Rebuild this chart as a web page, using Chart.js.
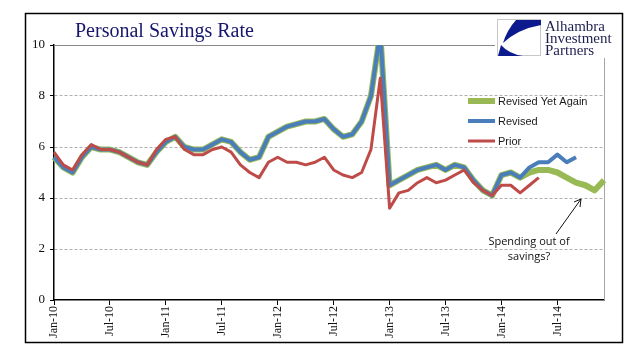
<!DOCTYPE html>
<html>
<head>
<meta charset="utf-8">
<script src="https://cdn.jsdelivr.net/npm/chart.js@4.4.0/dist/chart.umd.min.js"></script>
<style>
  body { margin: 0; background: #fff; }
  #chart_data { width: 641px; height: 358px; }
</style>
</head>
<body>
<div id="chart_data"><canvas id="chart-line" width="641" height="358"></canvas></div>
<script>
// month labels Jan-10 .. Dec-14
var monthNames = ['Jan','Feb','Mar','Apr','May','Jun','Jul','Aug','Sep','Oct','Nov','Dec'];
var years = ['10','11','12','13','14'];
var months = [];
years.forEach(function(y){ monthNames.forEach(function(m){ months.push(m + '-' + y); }); });

var yTicks = [0, 2, 4, 6, 8, 10];

var prior = [5.8, 5.3, 5.1, 5.7, 6.1, 5.9, 5.9, 5.8, 5.6, 5.4, 5.3, 5.9,
             6.3, 6.4, 5.9, 5.7, 5.7, 5.9, 6.0, 5.8, 5.3, 5.0, 4.8, 5.4,
             5.6, 5.4, 5.4, 5.3, 5.4, 5.6, 5.1, 4.9, 4.8, 5.0, 5.9, 8.7,
             3.6, 4.2, 4.3, 4.6, 4.8, 4.6, 4.7, 4.9, 5.1, 4.6, 4.3, 4.1,
             4.5, 4.5, 4.2, 4.5, 4.8];

var revised = [5.6, 5.2, 5.0, 5.6, 6.0, 5.9, 5.9, 5.8, 5.6, 5.4, 5.3, 5.8,
               6.2, 6.4, 6.0, 5.9, 5.9, 6.1, 6.3, 6.2, 5.8, 5.5, 5.6, 6.4,
               6.6, 6.8, 6.9, 7.0, 7.0, 7.1, 6.7, 6.4, 6.5, 7.0, 8.0, 10.5,
               4.5, 4.7, 4.9, 5.1, 5.2, 5.3, 5.1, 5.3, 5.2, 4.7, 4.3, 4.1,
               4.9, 5.0, 4.8, 5.2, 5.4, 5.4, 5.7, 5.4, 5.6];

var yetAgain = [5.6, 5.2, 5.0, 5.6, 6.0, 5.9, 5.9, 5.8, 5.6, 5.4, 5.3, 5.8,
                6.2, 6.4, 6.0, 5.9, 5.9, 6.1, 6.3, 6.2, 5.8, 5.5, 5.6, 6.4,
                6.6, 6.8, 6.9, 7.0, 7.0, 7.1, 6.7, 6.4, 6.5, 7.0, 8.0, 10.5,
                4.5, 4.7, 4.9, 5.1, 5.2, 5.3, 5.1, 5.3, 5.2, 4.7, 4.3, 4.1,
                4.9, 5.0, 4.8, 5.0, 5.1, 5.1, 5.0, 4.8, 4.6, 4.5, 4.3, 4.7];

var titleText = 'Personal Savings Rate';
var logoLines = ['Alhambra', 'Investment', 'Partners'];
var noteLines = ['Spending out of', 'savings?'];

var serif = "'Liberation Serif', 'Times New Roman', serif";

// extra drawing: title, logo, legend, note, frame
var decor = {
  id: 'decor',
  beforeDatasetsDraw: function(chart){
    var ctx = chart.ctx, a = chart.chartArea;
    ctx.save();
    ctx.strokeStyle = '#8a8a8a';
    ctx.lineWidth = 1;
    ctx.beginPath();
    ctx.moveTo(a.left, a.top + 0.5); ctx.lineTo(a.right, a.top + 0.5);
    ctx.stroke();
    ctx.strokeStyle = '#a6a6a6';
    ctx.beginPath();
    ctx.moveTo(a.right + 0.5, a.top); ctx.lineTo(a.right + 0.5, a.bottom);
    ctx.stroke();
    ctx.restore();
  },
  afterDraw: function(chart){
    var ctx = chart.ctx;
    ctx.save();

    // title
    ctx.fillStyle = '#16166c';
    ctx.font = '20px ' + serif;
    ctx.textBaseline = 'alphabetic';
    ctx.fillText(titleText, 75, 37);

    // logo
    ctx.fillStyle = '#fff';
    ctx.fillRect(495, 17, 118, 41);
    ctx.strokeStyle = '#c8c8c8';
    ctx.lineWidth = 1;
    ctx.strokeRect(497.5, 19.5, 43, 36);
    ctx.fillStyle = '#0c1a8e';
    ctx.beginPath();
    ctx.moveTo(516, 20); ctx.lineTo(541, 20); ctx.lineTo(541, 25);
    ctx.quadraticCurveTo(518, 29, 503, 43);
    ctx.quadraticCurveTo(507, 30, 516, 20);
    ctx.closePath(); ctx.fill();
    ctx.beginPath();
    ctx.moveTo(498, 56); ctx.lineTo(501, 45);
    ctx.quadraticCurveTo(509, 54, 523, 56);
    ctx.closePath(); ctx.fill();
    ctx.fillStyle = '#1e1e4e';
    ctx.font = '15px ' + serif;
    logoLines.forEach(function(t, i){ ctx.fillText(t, 545, 31 + i * 12); });

    // legend (reverse dataset order)
    var ds = chart.data.datasets;
    ctx.font = "11px 'Liberation Sans', Arial, sans-serif";
    ctx.textBaseline = 'middle';
    [2, 1, 0].forEach(function(k, i){
      var y = 101 + i * 20;
      ctx.strokeStyle = ds[k].borderColor;
      ctx.lineWidth = ds[k].borderWidth;
      ctx.beginPath(); ctx.moveTo(468, y); ctx.lineTo(495, y); ctx.stroke();
      ctx.fillStyle = '#1a1a1a';
      ctx.fillText(ds[k].label, 498, y + 0.5);
    });

    // note and arrow
    ctx.fillStyle = '#111';
    ctx.font = "11px 'Open Sans', sans-serif";
    ctx.textAlign = 'center';
    ctx.fillText(noteLines[0], 529, 242);
    ctx.fillText(noteLines[1], 529, 257);
    ctx.strokeStyle = '#111';
    ctx.lineWidth = 1;
    ctx.beginPath(); ctx.moveTo(556, 234); ctx.lineTo(581, 199); ctx.stroke();
    ctx.beginPath(); ctx.moveTo(574, 202); ctx.lineTo(581, 199); ctx.lineTo(580, 207); ctx.stroke();

    // outer frame
    ctx.strokeStyle = '#000';
    ctx.lineWidth = 1.5;
    ctx.strokeRect(25.5, 13.5, 597, 329);
    ctx.restore();
  }
};

var ctx2 = document.getElementById('chart-line').getContext('2d');
new Chart(ctx2, {
  type: 'line',
  data: {
    labels: months,
    datasets: [{
      label: 'Prior',
      data: prior,
      borderColor: '#be4b48',
      borderWidth: 3,
      pointRadius: 0,
      tension: 0,
      borderJoinStyle: 'round',
      clip: { left: 3, top: 0, right: 3, bottom: 3 }
    }, {
      label: 'Revised',
      data: revised,
      borderColor: '#4a7ebb',
      borderWidth: 4,
      pointRadius: 0,
      tension: 0,
      borderJoinStyle: 'round',
      clip: { left: 3, top: 0, right: 3, bottom: 3 }
    }, {
      label: 'Revised Yet Again',
      data: yetAgain,
      borderColor: '#98b954',
      borderWidth: 6,
      pointRadius: 0,
      tension: 0,
      borderJoinStyle: 'round',
      clip: { left: 3, top: 0, right: 3, bottom: 3 }
    }]
  },
  options: {
    responsive: false,
    animation: false,
    devicePixelRatio: 1,
    layout: { padding: { left: 0, right: 37, top: 45, bottom: 0 } },
    plugins: {
      legend: { display: false },
      tooltip: { enabled: false }
    },
    scales: {
      y: {
        min: 0,
        max: 10,
        afterFit: function(scale){ scale.width = 54; },
        afterBuildTicks: function(scale){ scale.ticks = yTicks.map(function(v){ return { value: v }; }); },
        border: { display: true, color: '#000', width: 1.5, dash: [3, 2] },
        grid: {
          color: function(c){ return (c.tick && (c.tick.value === 0 || c.tick.value === 10)) ? 'rgba(0,0,0,0)' : '#b0b0b0'; },
          lineWidth: 1,
          drawTicks: true,
          tickLength: 4,
          tickColor: '#000',
          tickBorderDash: []
        },
        ticks: {
          color: '#111',
          padding: 5,
          font: { family: serif, size: 13 }
        }
      },
      x: {
        afterFit: function(scale){ scale.height = 58; },
        border: { display: true, color: '#000', width: 1.5 },
        grid: {
          drawOnChartArea: false,
          drawTicks: true,
          tickLength: 5,
          tickColor: function(c){ return c.index % 6 === 0 ? '#000' : 'rgba(0,0,0,0)'; }
        },
        ticks: {
          autoSkip: false,
          maxRotation: 90,
          minRotation: 90,
          padding: 1,
          color: '#111',
          font: { family: serif, size: 12 },
          callback: function(v, i){ return i % 6 === 0 ? months[i] : ''; }
        }
      }
    }
  },
  plugins: [decor]
});
</script>
</body>
</html>
